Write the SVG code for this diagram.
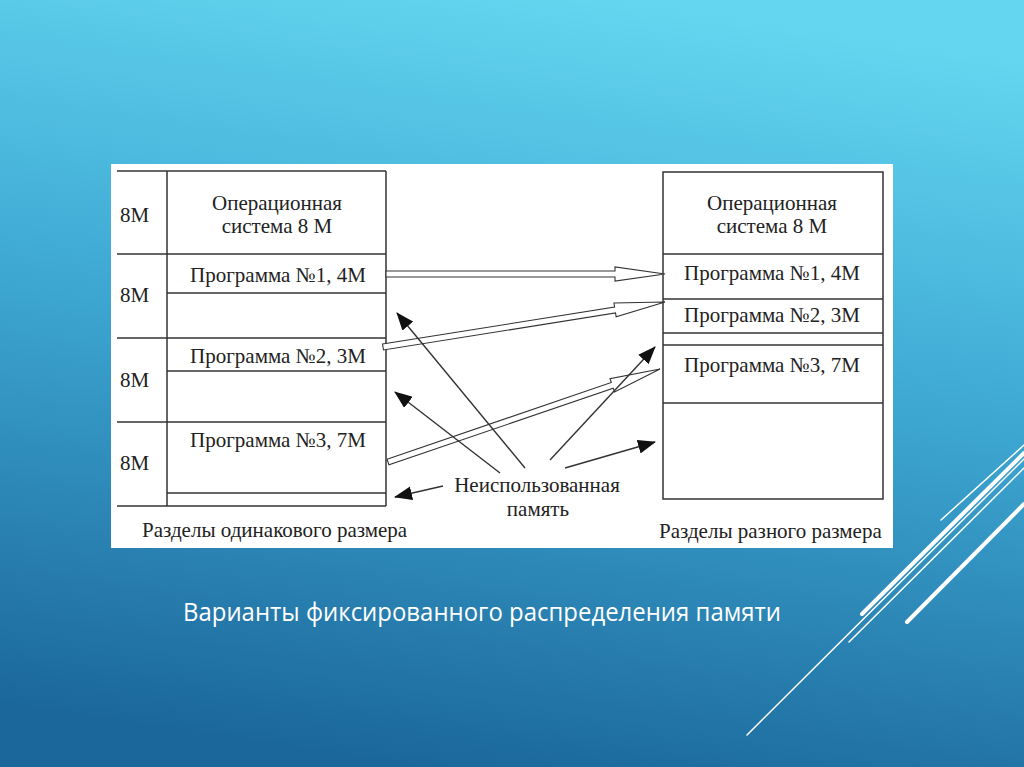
<svg xmlns="http://www.w3.org/2000/svg" width="1024" height="767" viewBox="0 0 1024 767">
<defs>
<linearGradient id="bg" x1="0.6" y1="0" x2="0.4" y2="1">
<stop offset="0" stop-color="#64d6f0"/>
<stop offset="0.45" stop-color="#3ea8d3"/>
<stop offset="1" stop-color="#1b679b"/>
</linearGradient>
<marker id="ah" viewBox="0 0 18 14" refX="17" refY="7" markerWidth="18" markerHeight="14" markerUnits="userSpaceOnUse" orient="auto">
<path d="M0,0 L18,7 L0,14 z" fill="#111"/>
</marker>
</defs>
<style>
.t{font-family:"Liberation Serif","Times New Roman",serif;font-size:21px;fill:#222}
.c{text-anchor:middle}
.ln{stroke:#333;stroke-width:1.5;fill:none}
.hollow{fill:#fff;stroke:#333;stroke-width:1.1}
.blk{stroke:#333;stroke-width:1.4;fill:none;marker-end:url(#ah)}
.deco{stroke:#fff;stroke-linecap:round}
</style>
<rect x="0" y="0" width="1024" height="767" fill="url(#bg)"/>
<g id="deco">
<line class="deco" x1="941" y1="520" x2="1024" y2="445" stroke-width="1.5"/>
<line class="deco" x1="862" y1="614" x2="1024" y2="453" stroke-width="4"/>
<line class="deco" x1="747" y1="735" x2="1024" y2="459" stroke-width="1.5"/>
<line class="deco" x1="849" y1="642" x2="1024" y2="468" stroke-width="1.5"/>
<line class="deco" x1="907" y1="622" x2="1024" y2="504" stroke-width="4"/>
</g>
<rect id="panel" x="111" y="164" width="782" height="384" fill="#fff"/>
<g id="left-memory">
<line class="ln" x1="117" y1="171" x2="386" y2="171"/>
<line class="ln" x1="117" y1="254" x2="386" y2="254"/>
<line class="ln" x1="117" y1="338" x2="386" y2="338"/>
<line class="ln" x1="117" y1="422" x2="386" y2="422"/>
<line class="ln" x1="117" y1="506" x2="386" y2="506"/>
<line class="ln" x1="167" y1="293" x2="386" y2="293"/>
<line class="ln" x1="167" y1="371" x2="386" y2="371"/>
<line class="ln" x1="167" y1="493" x2="386" y2="493"/>
<line class="ln" x1="167" y1="171" x2="167" y2="506"/>
<line class="ln" x1="386" y1="171" x2="386" y2="506"/>
<text class="t" x="120" y="222">8M</text>
<text class="t" x="120" y="302">8M</text>
<text class="t" x="120" y="387">8M</text>
<text class="t" x="120" y="470">8M</text>
<text class="t c" x="277" y="210">Операционная</text>
<text class="t c" x="277" y="233">система 8 М</text>
<text class="t c" x="278" y="282">Программа №1, 4М</text>
<text class="t c" x="278" y="363">Программа №2, 3М</text>
<text class="t c" x="278" y="447">Программа №3, 7М</text>
<text class="t" x="142" y="537">Разделы одинакового размера</text>
</g>
<g id="right-memory">
<rect class="ln" x="663" y="172" width="220" height="327" stroke="#555"/>
<line class="ln" x1="663" y1="254" x2="883" y2="254"/>
<line class="ln" x1="663" y1="299" x2="883" y2="299"/>
<line class="ln" x1="663" y1="333" x2="883" y2="333"/>
<line class="ln" x1="663" y1="345" x2="883" y2="345"/>
<line class="ln" x1="663" y1="403" x2="883" y2="403"/>
<text class="t c" x="772" y="210">Операционная</text>
<text class="t c" x="772" y="233">система 8 М</text>
<text class="t c" x="772" y="280">Программа №1, 4М</text>
<text class="t c" x="772" y="322">Программа №2, 3М</text>
<text class="t c" x="772" y="372">Программа №3, 7М</text>
<text class="t" x="659" y="538">Разделы разного размера</text>
</g>
<g id="unused-label">
<text class="t c" x="537" y="492">Неиспользованная</text>
<text class="t c" x="538" y="516">память</text>
</g>
<g id="connectors">
<polygon class="hollow" points="386,271 615,271 615,267 665,274 615,281 615,277 386,277"/>
<polygon class="hollow" transform="translate(383,347) rotate(-9.07)" points="0,-3 235,-3 235,-7 285.6,0 235,7 235,3 0,3"/>
<polygon class="hollow" transform="translate(388,462) rotate(-18.87)" points="0,-3 237,-3 237,-7 287.5,0 237,7 237,3 0,3"/>
<line class="blk" x1="525" y1="468" x2="397" y2="313"/>
<line class="blk" x1="500" y1="473" x2="395" y2="392"/>
<line class="blk" x1="550" y1="460" x2="655" y2="347"/>
<line class="blk" x1="565" y1="468" x2="655" y2="442"/>
<line class="blk" x1="443" y1="486" x2="395" y2="497"/>
</g>
<text id="title" x="183" y="621" font-family="'Open Sans','Liberation Sans',sans-serif" font-size="25" fill="#fff" textLength="598" lengthAdjust="spacingAndGlyphs">Варианты фиксированного распределения памяти</text>
</svg>
